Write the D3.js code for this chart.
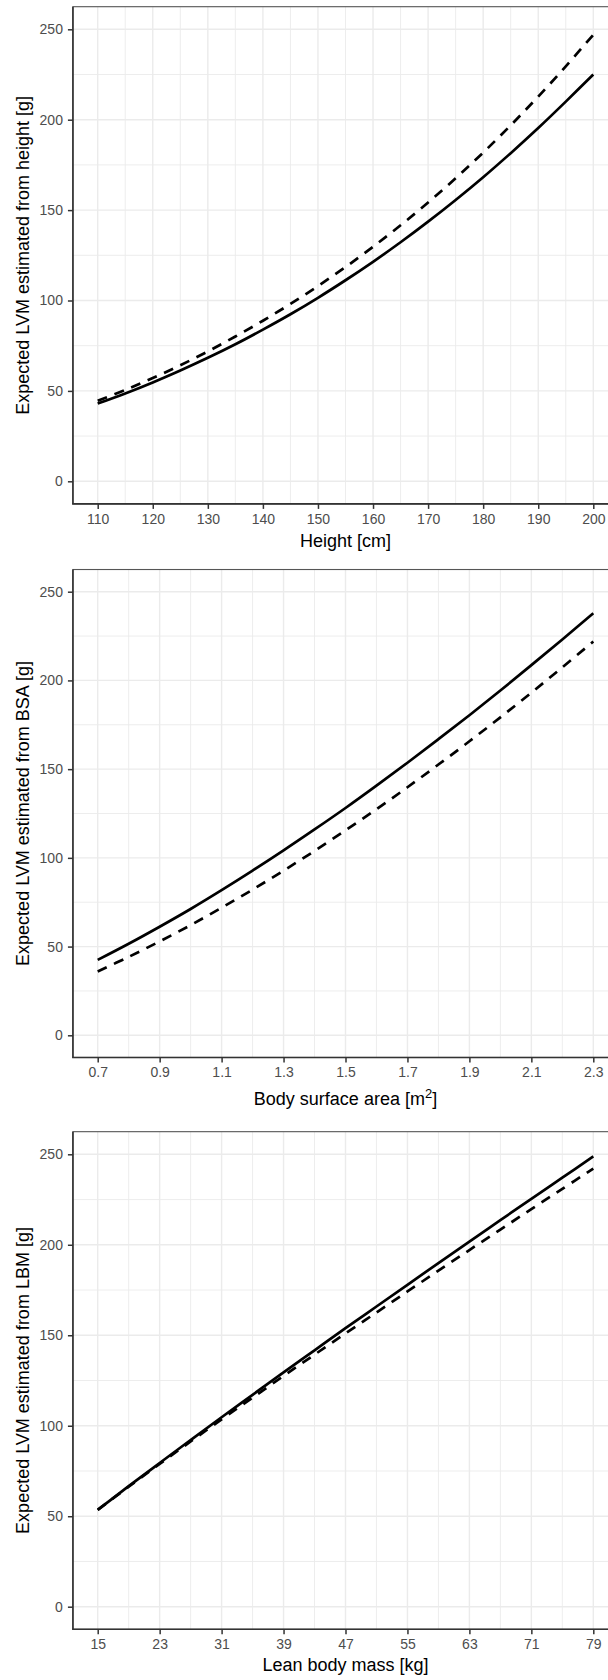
<!DOCTYPE html>
<html>
<head>
<meta charset="utf-8">
<script src="https://cdn.jsdelivr.net/npm/d3@7"></script>
<style>
  html, body { margin: 0; padding: 0; background: #fff; }
  svg { display: block; }
  text { font-family: "Liberation Sans", Arial, Helvetica, sans-serif; }
</style>
</head>
<body>
<svg id="chart" width="608" height="1680"></svg>
<script>
// ---------------- data ----------------
const yTicks = [0, 50, 100, 150, 200, 250];

const heightTicks = [110, 120, 130, 140, 150, 160, 170, 180, 190, 200];
const heightX      = [110, 115, 120, 125, 130, 135, 140, 145, 150, 155, 160, 165, 170, 175, 180, 185, 190, 195, 200];
const heightSolid  = [43.0, 48.6, 54.7, 61.3, 68.3, 75.8, 83.9, 92.4, 101.5, 111.2, 121.4, 132.2, 143.6, 155.6, 168.2, 181.5, 195.4, 210.0, 225.0];
const heightDashed = [44.5, 50.5, 57.1, 64.2, 71.8, 80.1, 88.8, 98.1, 108.0, 118.5, 129.7, 141.6, 154.2, 167.6, 181.8, 196.9, 212.8, 229.5, 247.0];

const bsaTicks = [0.7, 0.9, 1.1, 1.3, 1.5, 1.7, 1.9, 2.1, 2.3];
const bsaX      = [0.7, 0.8, 0.9, 1.0, 1.1, 1.2, 1.3, 1.4, 1.5, 1.6, 1.7, 1.8, 1.9, 2.0, 2.1, 2.2, 2.3];
const bsaSolid  = [42.5, 51.6, 61.2, 71.2, 81.8, 92.8, 104.2, 116.0, 128.1, 140.7, 153.6, 166.9, 180.4, 194.3, 208.6, 223.1, 237.9];
const bsaDashed = [36.0, 44.2, 52.9, 62.1, 71.9, 82.1, 92.8, 103.9, 115.5, 127.4, 139.8, 152.6, 165.7, 179.2, 193.1, 207.4, 221.9];

const lbmTicks = [15, 23, 31, 39, 47, 55, 63, 71, 79];
const lbmX      = [15, 19, 23, 27, 31, 35, 39, 43, 47, 51, 55, 59, 63, 67, 71, 75, 79];
const lbmSolid  = [53.5, 66.6, 79.4, 92.1, 104.7, 117.1, 129.5, 141.7, 153.9, 165.9, 177.9, 189.9, 201.8, 213.6, 225.4, 237.1, 248.8];
const lbmDashed = [53.5, 66.3, 78.9, 91.3, 103.5, 115.5, 127.5, 139.3, 151.0, 162.6, 174.2, 185.7, 197.1, 208.4, 219.7, 230.9, 242.1];

const yTitles = ["Expected LVM estimated from height [g]",
                 "Expected LVM estimated from BSA [g]",
                 "Expected LVM estimated from LBM [g]"];

// ---------------- layout ----------------
const svg = d3.select("#chart");
const xPix = [97.7, 593.3];          // pixel of first / last x tick

const panels = [
  { xs: heightX, solid: heightSolid, dashed: heightDashed, ticks: heightTicks,
    fmt: d => d3.format("d")(d), y0: 481.3, y250: 29.3, titleY: 547, title: "Height [cm]", yTitle: yTitles[0] },
  { xs: bsaX, solid: bsaSolid, dashed: bsaDashed, ticks: bsaTicks,
    fmt: d => d3.format(".1f")(d), y0: 1035.3, y250: 591.7, titleY: 1104.5, title: "bsa", yTitle: yTitles[1] },
  { xs: lbmX, solid: lbmSolid, dashed: lbmDashed, ticks: lbmTicks,
    fmt: d => d3.format("d")(d), y0: 1606.7, y250: 1154.3, titleY: 1671, title: "Lean body mass [kg]", yTitle: yTitles[2] }
];

panels.forEach((p, i) => {
  const tMin = p.ticks[0], tMax = p.ticks[p.ticks.length - 1];
  const x = d3.scaleLinear().domain([tMin, tMax]).range(xPix);
  const y = d3.scaleLinear().domain([0, 250]).range([p.y0, p.y250]);
  const xr = (tMax - tMin) * 0.05;
  const xL = x(tMin - xr), xR = x(tMax + xr);
  const yT = y(262.5), yB = y(-12.5);

  const g = svg.append("g");

  // grid minor
  const stepX = p.ticks[1] - p.ticks[0];
  const minorX = p.ticks.slice(0, -1).map(t => t + stepX / 2);
  const minorY = yTicks.slice(0, -1).map(t => t + 25);
  g.selectAll(".mx").data(minorX).join("line")
    .attr("x1", d => x(d)).attr("x2", d => x(d)).attr("y1", yT).attr("y2", yB)
    .attr("stroke", "#EBEBEB").attr("stroke-width", 0.9);
  g.selectAll(".my").data(minorY).join("line")
    .attr("x1", xL).attr("x2", xR).attr("y1", d => y(d)).attr("y2", d => y(d))
    .attr("stroke", "#EBEBEB").attr("stroke-width", 0.9);
  // grid major
  g.selectAll(".Mx").data(p.ticks).join("line")
    .attr("x1", d => x(d)).attr("x2", d => x(d)).attr("y1", yT).attr("y2", yB)
    .attr("stroke", "#EBEBEB").attr("stroke-width", 1.4);
  g.selectAll(".My").data(yTicks).join("line")
    .attr("x1", xL).attr("x2", xR).attr("y1", d => y(d)).attr("y2", d => y(d))
    .attr("stroke", "#EBEBEB").attr("stroke-width", 1.4);

  // lines
  const line = d3.line().x(d => x(d[0])).y(d => y(d[1])).curve(d3.curveCatmullRom);
  g.append("path").datum(p.xs.map((v, k) => [v, p.dashed[k]]))
    .attr("d", line).attr("fill", "none").attr("stroke", "#000")
    .attr("stroke-width", 2.7).attr("stroke-dasharray", "10,8");
  g.append("path").datum(p.xs.map((v, k) => [v, p.solid[k]]))
    .attr("d", line).attr("fill", "none").attr("stroke", "#000")
    .attr("stroke-width", 2.7);

  // panel border
  g.append("rect").attr("x", xL).attr("y", yT).attr("width", xR - xL).attr("height", yB - yT)
    .attr("fill", "none").attr("stroke", "#555").attr("stroke-width", 1.1);
  // axis lines (left / bottom, darker)
  g.append("line").attr("x1", xL).attr("x2", xL).attr("y1", yT).attr("y2", yB)
    .attr("stroke", "#333").attr("stroke-width", 1.6);
  g.append("line").attr("x1", xL - 0.8).attr("x2", xR).attr("y1", yB).attr("y2", yB)
    .attr("stroke", "#333").attr("stroke-width", 1.6);

  // axes
  const ax = g.append("g").attr("transform", `translate(0,${yB})`)
    .call(d3.axisBottom(x).tickValues(p.ticks).tickFormat(p.fmt).tickSize(5).tickPadding(5).tickSizeOuter(0));
  const ay = g.append("g").attr("transform", `translate(${xL},0)`)
    .call(d3.axisLeft(y).tickValues(yTicks).tickSize(5).tickPadding(5).tickSizeOuter(0));
  [ax, ay].forEach(a => {
    a.select(".domain").remove();
    a.selectAll(".tick line").attr("stroke", "#333").attr("stroke-width", 1.5);
    a.selectAll(".tick text").attr("fill", "#4D4D4D")
      .style("font-size", "14px").style("font-family", '"Liberation Sans", Arial, Helvetica, sans-serif');
  });

  // x title
  const cx = (xPix[0] + xPix[1]) / 2 + 0; // centre of visible panel region
  const panelCx = (xL + xR) / 2;
  const tx = g.append("text").attr("x", panelCx).attr("y", p.titleY)
    .attr("text-anchor", "middle").attr("fill", "#000").style("font-size", "18px");
  if (p.title === "bsa") {
    tx.append("tspan").text("Body surface area [m");
    tx.append("tspan").attr("dy", -7).style("font-size", "13px").text("2");
    tx.append("tspan").attr("dy", 7).text("]");
  } else {
    tx.text(p.title);
  }

  // y title
  g.append("text")
    .attr("transform", `translate(29,${(yT + yB) / 2}) rotate(-90)`)
    .attr("text-anchor", "middle").attr("fill", "#000").style("font-size", "18px")
    .text(p.yTitle);
});
</script>
</body>
</html>
